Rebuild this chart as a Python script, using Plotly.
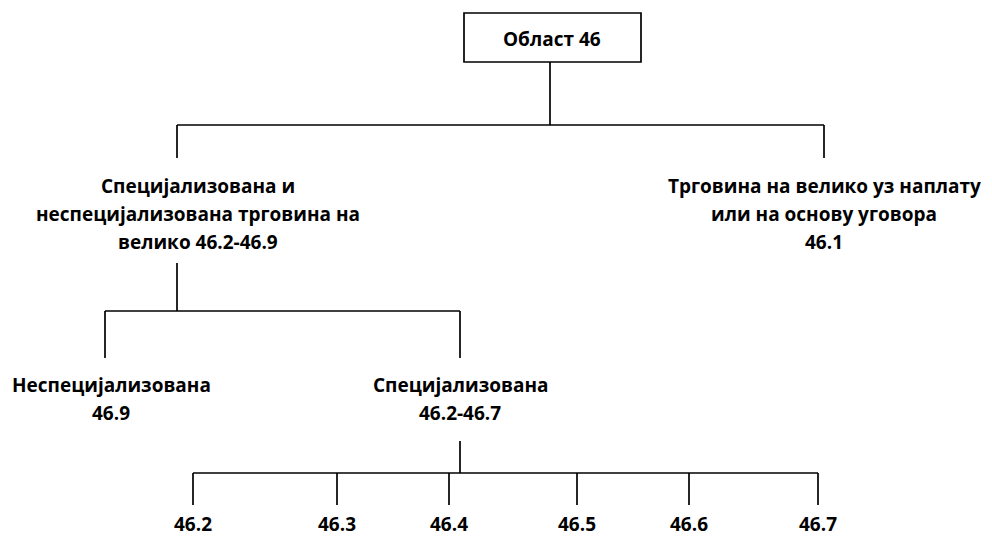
import plotly.graph_objects as go

# ---- data: tree labels (lines) and their anchor positions ----
root_label = "Област 46"
root_box = dict(x0=464, x1=641, y0=13, y1=62)
root_text_xy = (551.5, 39)

label_lines = [
    ["Специјализована и", "неспецијализована трговина на", "велико 46.2-46.9"],
    ["Трговина на велико уз наплату", "или на основу уговора", "46.1"],
    ["Неспецијализована", "46.9"],
    ["Специјализована", "46.2-46.7"],
    ["46.2"], ["46.3"], ["46.4"], ["46.5"], ["46.6"], ["46.7"],
]
label_x = [198, 824, 111, 460, 193, 337, 449, 577, 689, 818]
label_y0 = [186, 186, 385, 385, 524, 524, 524, 524, 524, 524]
line_gap = 27.8

# connector groups: parent x, parent bottom y, bus y, child xs, child top y
conn_parent_x = [550, 177, 460]
conn_top = [62, 263, 441]
conn_bus = [125, 311, 473]
conn_children = [[177, 824], [105, 460], [193, 337, 449, 577, 689, 818]]
conn_drop = [158, 358, 505]

FONT = "Open Sans"
FSIZE = 19

fig = go.Figure()

xs, ys = [], []
for px, top, bus, kids, drop in zip(conn_parent_x, conn_top, conn_bus, conn_children, conn_drop):
    xs += [px, px, None]
    ys += [top, bus, None]
    xs += [min(kids + [px]), max(kids + [px]), None]
    ys += [bus, bus, None]
    for k in kids:
        xs += [k, k, None]
        ys += [bus, drop, None]

fig.add_trace(go.Scatter(x=xs, y=ys, mode="lines",
                         line=dict(color="black", width=1.7),
                         hoverinfo="skip", showlegend=False))

fig.add_shape(type="rect", xref="x", yref="y", **root_box,
              line=dict(color="black", width=1.7), fillcolor="white")

fig.add_annotation(x=root_text_xy[0], y=root_text_xy[1], text=root_label,
                   showarrow=False, xref="x", yref="y",
                   font=dict(family=FONT, size=FSIZE, color="black", weight="bold"))

for lines, lx, ly in zip(label_lines, label_x, label_y0):
    for i, t in enumerate(lines):
        fig.add_annotation(x=lx, y=ly + i * line_gap, text=t, showarrow=False,
                           xref="x", yref="y",
                           font=dict(family=FONT, size=FSIZE, color="black", weight="bold"))

# page body has an 8px margin: offset ranges so data units equal page pixels
fig.update_xaxes(range=[8, 1000], visible=False, fixedrange=True)
fig.update_yaxes(range=[545, 8], visible=False, fixedrange=True)
fig.update_layout(width=992, height=537, margin=dict(l=0, r=0, t=0, b=0),
                  plot_bgcolor="white", paper_bgcolor="white")

fig.write_html("out.html")
